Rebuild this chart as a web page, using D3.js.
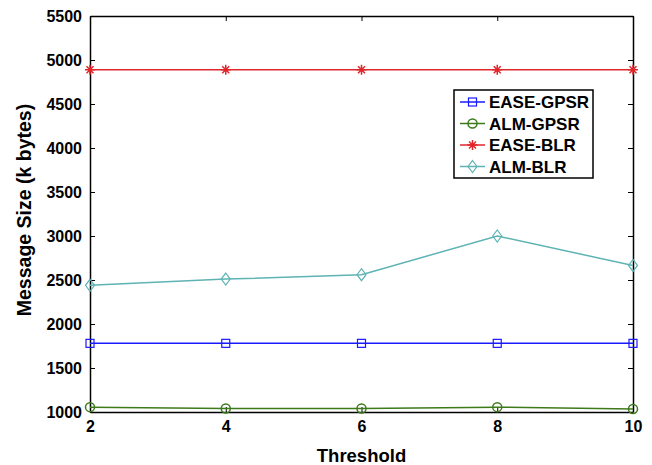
<!DOCTYPE html>
<html>
<head>
<meta charset="utf-8">
<script src="https://cdn.jsdelivr.net/npm/d3@7"></script>
<style>
  body { margin: 0; background: #fff; }
  text { font-family: "Liberation Sans", Arial, sans-serif; font-weight: bold; }
</style>
</head>
<body>
<svg id="chart"></svg>
<script>
// data
var thresholds = [2, 4, 6, 8, 10];
var easeGpsr = [1780, 1780, 1780, 1780, 1780];
var almGpsr  = [1055, 1040, 1040, 1055, 1035];
var easeBlr  = [4890, 4890, 4890, 4890, 4890];
var almBlr   = [2440, 2510, 2560, 3000, 2665];
var yTicks = [1000, 1500, 2000, 2500, 3000, 3500, 4000, 4500, 5000, 5500];

var series = [
  { name: "EASE-GPSR", values: easeGpsr, color: "#1a1aff", marker: "square" },
  { name: "ALM-GPSR",  values: almGpsr,  color: "#3d7a1a", marker: "circle" },
  { name: "EASE-BLR",  values: easeBlr,  color: "#e0262b", marker: "star" },
  { name: "ALM-BLR",   values: almBlr,   color: "#5fb3b3", marker: "diamond" }
];

var W = 652, H = 465;
var m = { left: 90, right: 633, top: 16, bottom: 412 };

var svg = d3.select("#chart").attr("width", W).attr("height", H);

var x = d3.scaleLinear().domain([2, 10]).range([m.left, m.right]);
var y = d3.scaleLinear().domain([1000, 5500]).range([m.bottom, m.top]);

// axes, ticks drawn inwards like matlab
var gx = svg.append("g").attr("transform", "translate(0," + m.bottom + ")")
  .call(d3.axisBottom(x).tickValues(thresholds).tickSizeInner(-5).tickSizeOuter(0).tickPadding(9));
var gxt = svg.append("g").attr("transform", "translate(0," + m.top + ")")
  .call(d3.axisTop(x).tickValues(thresholds).tickSizeInner(-5).tickSizeOuter(0).tickFormat(""));
var gy = svg.append("g").attr("transform", "translate(" + m.left + ",0)")
  .call(d3.axisLeft(y).tickValues(yTicks).tickSizeInner(-5).tickSizeOuter(0).tickPadding(8).tickFormat(d3.format("d")));
var gyr = svg.append("g").attr("transform", "translate(" + m.right + ",0)")
  .call(d3.axisRight(y).tickValues(yTicks).tickSizeInner(-5).tickSizeOuter(0).tickFormat(""));

[gx, gxt, gy, gyr].forEach(function (g) {
  g.select(".domain").attr("stroke", "#000").attr("stroke-width", 1.5);
  g.selectAll(".tick line").attr("stroke", "#000").attr("stroke-width", 1);
  g.selectAll(".tick text").attr("fill", "#000").style("font-size", "16px")
    .style("font-family", "'Liberation Sans', Arial, sans-serif").style("font-weight", "bold");
});

svg.append("text").attr("x", (m.left + m.right) / 2).attr("y", 462)
  .attr("text-anchor", "middle").style("font-size", "18.5px").text("Threshold");
svg.append("text").attr("transform", "translate(31,210) rotate(-90)")
  .attr("text-anchor", "middle").style("font-size", "19.5px").text("Message Size (k bytes)");

function drawMarker(g, type, color) {
  if (type === "square") {
    g.append("rect").attr("x", -4).attr("y", -4).attr("width", 8).attr("height", 8)
      .attr("fill", "none").attr("stroke", color).attr("stroke-width", 1.2);
  } else if (type === "circle") {
    g.append("circle").attr("r", 4.5).attr("fill", "none").attr("stroke", color).attr("stroke-width", 1.5);
  } else if (type === "diamond") {
    g.append("path").attr("d", "M0,-6 L4.5,0 L0,6 L-4.5,0 Z")
      .attr("fill", "none").attr("stroke", color).attr("stroke-width", 1.2);
  } else {
    g.append("path").attr("d", "M-5,0 L5,0 M0,-5 L0,5 M-3.5,-3.5 L3.5,3.5 M-3.5,3.5 L3.5,-3.5")
      .attr("stroke", color).attr("stroke-width", 1.5);
  }
}

var line = d3.line().x(function (d) { return x(d[0]); }).y(function (d) { return y(d[1]); });

series.forEach(function (s) {
  var pts = thresholds.map(function (t, i) { return [t, s.values[i]]; });
  svg.append("path").datum(pts).attr("d", line)
    .attr("fill", "none").attr("stroke", s.color).attr("stroke-width", 1.5);
  pts.forEach(function (p) {
    var g = svg.append("g").attr("transform", "translate(" + x(p[0]) + "," + y(p[1]) + ")");
    drawMarker(g, s.marker, s.color);
  });
});

// legend
var lg = svg.append("g").attr("transform", "translate(454,90)");
lg.append("rect").attr("width", 139).attr("height", 88)
  .attr("fill", "#fff").attr("stroke", "#000").attr("stroke-width", 1.5);
series.forEach(function (s, i) {
  var yy = 12 + i * 21.5;
  lg.append("line").attr("x1", 6).attr("x2", 31).attr("y1", yy).attr("y2", yy)
    .attr("stroke", s.color).attr("stroke-width", 1.5);
  drawMarker(lg.append("g").attr("transform", "translate(18.5," + yy + ")"), s.marker, s.color);
  lg.append("text").attr("x", 35).attr("y", yy + 6).style("font-size", "17px").text(s.name);
});
</script>
</body>
</html>
